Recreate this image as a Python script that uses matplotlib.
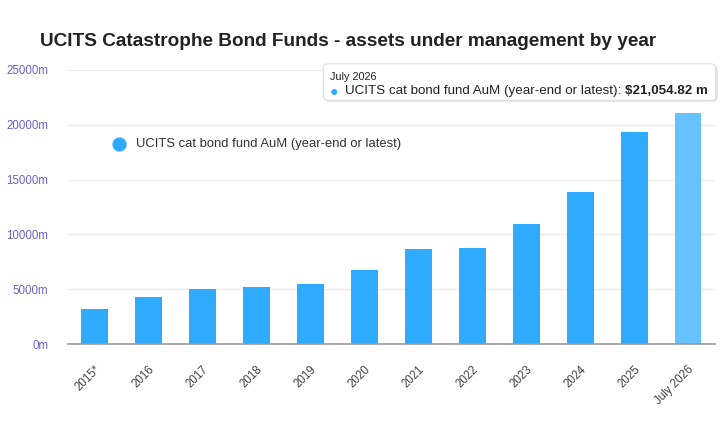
import matplotlib.pyplot as plt
from matplotlib.patches import FancyBboxPatch
from matplotlib.ticker import FuncFormatter


# Data

years = [
    "2015*", "2016", "2017", "2018", "2019", "2020",
    "2021", "2022", "2023", "2024", "2025", "July 2026",
]

aum_millions = [
    3190, 4290, 5020, 5200, 5470, 6750,
    8670, 8760, 10950, 13870, 19340, 21054.82,
]

series_name = "UCITS cat bond fund AuM (year-end or latest)"


# Styling

bar_color = "#2eaaff"
hover_color = "#66c2ff"
tick_color = "#6b62c8"

plt.rcParams["font.family"] = ["Liberation Sans", "DejaVu Sans"]

fig = plt.figure(figsize=(7.2, 4.4), dpi=100)
ax = fig.add_axes([0.094, 0.218, 0.899, 0.623])

colors = [bar_color] * (len(years) - 1) + [hover_color]

positions = range(len(years))

ax.bar(
    positions,
    aum_millions,
    width=0.5,
    color=colors,
    zorder=3
)

ax.set_xlim(-0.5, len(years) - 0.5)
ax.set_ylim(0, 25000)
ax.set_yticks(range(0, 25001, 5000))

ax.yaxis.set_major_formatter(
    FuncFormatter(lambda v, p: f"{int(v)}m")
)

ax.set_xticks(list(positions))
ax.set_xticklabels(
    years,
    rotation=45,
    ha="right",
    rotation_mode="anchor",
    fontsize=8.3,
    color="#444444"
)

ax.tick_params(axis="y", labelsize=8.3, labelcolor=tick_color, length=0, pad=14)
ax.tick_params(axis="x", length=0, pad=14)

ax.grid(axis="y", color="#ececec", linewidth=1, zorder=0)

for side in ["top", "right", "left"]:
    ax.spines[side].set_visible(False)

ax.spines["bottom"].set_color("#999999")
ax.spines["bottom"].set_linewidth(1.2)
ax.spines["bottom"].set_zorder(4)


# Title

fig.text(
    0.055,
    0.895,
    "UCITS Catastrophe Bond Funds - assets under management by year",
    fontsize=13.7,
    fontweight="bold",
    color="#222222"
)


# Legend (placed inside the plot area)

ax.scatter(
    [0.45], [18250],
    s=85,
    color=bar_color,
    zorder=5,
    clip_on=False
)

ax.text(
    0.76, 18250,
    series_name,
    fontsize=9.4,
    color="#333333",
    va="center"
)


# Tooltip for the hovered bar

shadow = FancyBboxPatch(
    (0.452, 0.768),
    0.545,
    0.083,
    boxstyle="round,pad=0,rounding_size=0.008",
    transform=fig.transFigure,
    facecolor="#e6e6e6",
    edgecolor="none",
    zorder=7
)
fig.patches.append(shadow)

tip = FancyBboxPatch(
    (0.449, 0.772),
    0.545,
    0.083,
    boxstyle="round,pad=0,rounding_size=0.008",
    transform=fig.transFigure,
    facecolor="white",
    edgecolor="#dddddd",
    linewidth=0.8,
    zorder=8
)
fig.patches.append(tip)

fig.text(
    0.459, 0.826,
    "July 2026",
    fontsize=7.8,
    color="#222222",
    va="center",
    zorder=10
)

fig.text(
    0.458, 0.792,
    "\u25CF",
    fontsize=10,
    color=bar_color,
    va="center",
    zorder=10
)

label = fig.text(
    0.479, 0.793,
    series_name + ": ",
    fontsize=9.6,
    color="#222222",
    va="center",
    zorder=10
)

fig.canvas.draw()
box = label.get_window_extent().transformed(fig.transFigure.inverted())

fig.text(
    box.x1, 0.793,
    f"${aum_millions[-1]:,.2f} m",
    fontsize=9.6,
    fontweight="bold",
    color="#222222",
    va="center",
    zorder=10
)

fig.savefig("out.png", dpi=100)
